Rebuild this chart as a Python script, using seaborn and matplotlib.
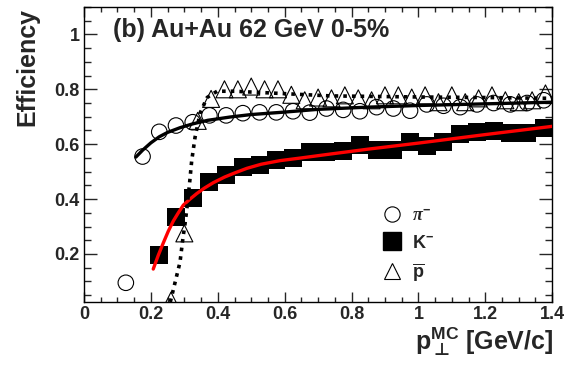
import seaborn as sns
import matplotlib.pyplot as plt
from matplotlib.lines import Line2D
from matplotlib.ticker import MultipleLocator

# pi- efficiency (open circles)
pi_pt = [0.125, 0.175, 0.225, 0.275, 0.325, 0.375, 0.425, 0.475, 0.525, 0.575,
         0.625, 0.675, 0.725, 0.775, 0.825, 0.875, 0.925, 0.975, 1.025, 1.075,
         1.125, 1.175, 1.225, 1.275, 1.325, 1.375]
pi_eff = [0.095, 0.555, 0.645, 0.668, 0.680, 0.705, 0.705, 0.713, 0.716, 0.716,
          0.720, 0.715, 0.730, 0.725, 0.720, 0.735, 0.730, 0.722, 0.745, 0.740,
          0.735, 0.745, 0.750, 0.745, 0.750, 0.760]

# K- efficiency (filled squares)
k_pt = [0.225, 0.275, 0.325, 0.375, 0.425, 0.475, 0.525, 0.575, 0.625, 0.675,
        0.725, 0.775, 0.825, 0.875, 0.925, 0.975, 1.025, 1.075, 1.125, 1.175,
        1.225, 1.275, 1.325, 1.375]
k_eff = [0.195, 0.335, 0.404, 0.462, 0.487, 0.516, 0.524, 0.542, 0.550, 0.572,
         0.570, 0.575, 0.596, 0.578, 0.578, 0.607, 0.593, 0.608, 0.636, 0.643,
         0.647, 0.640, 0.640, 0.660]

# pbar efficiency (open triangles)
pb_pt = [0.26, 0.30, 0.34, 0.38, 0.42, 0.46, 0.50, 0.54, 0.58, 0.62,
         0.66, 0.70, 0.74, 0.78, 0.82, 0.86, 0.90, 0.94, 0.98, 1.02,
         1.06, 1.10, 1.14, 1.18, 1.22, 1.26, 1.30, 1.34, 1.38]
pb_eff = [0.030, 0.275, 0.685, 0.765, 0.800, 0.800, 0.810, 0.800, 0.800, 0.780,
          0.760, 0.770, 0.767, 0.778, 0.767, 0.760, 0.778, 0.778, 0.770, 0.778,
          0.753, 0.778, 0.753, 0.767, 0.778, 0.760, 0.753, 0.760, 0.785]

# fit curves
pi_fit_pt = [0.155, 0.175, 0.20, 0.225, 0.25, 0.287, 0.325, 0.37, 0.437, 0.50,
             0.60, 0.70, 0.85, 1.0, 1.2, 1.4]
pi_fit_eff = [0.553, 0.578, 0.605, 0.627, 0.643, 0.660, 0.674, 0.687, 0.699, 0.708,
              0.717, 0.727, 0.735, 0.741, 0.747, 0.753]

k_fit_pt = [0.207, 0.222, 0.237, 0.252, 0.267, 0.282, 0.297, 0.317, 0.337, 0.36,
            0.387, 0.42, 0.45, 0.487, 0.53, 0.586, 0.65, 0.736, 0.85, 1.0, 1.2, 1.4]
k_fit_eff = [0.145, 0.195, 0.240, 0.283, 0.320, 0.350, 0.378, 0.400, 0.420, 0.440,
             0.460, 0.480, 0.495, 0.512, 0.527, 0.540, 0.550, 0.564, 0.582, 0.604,
             0.635, 0.665]

pb_fit_pt = [0.258, 0.263, 0.275, 0.287, 0.296, 0.302, 0.308, 0.315, 0.322, 0.332,
             0.347, 0.368, 0.398, 0.45, 0.50, 0.586, 0.736, 1.0, 1.2, 1.4]
pb_fit_eff = [0.025, 0.050, 0.110, 0.170, 0.260, 0.310, 0.370, 0.450, 0.540, 0.625,
              0.713, 0.770, 0.793, 0.793, 0.790, 0.785, 0.776, 0.772, 0.770, 0.767]

sns.set_style("ticks")
plt.rcParams['font.family'] = ['Liberation Sans', 'DejaVu Sans']
plt.rcParams['font.weight'] = 'bold'
plt.rcParams['mathtext.fontset'] = 'custom'
plt.rcParams['mathtext.rm'] = 'Liberation Sans:bold'
plt.rcParams['mathtext.bf'] = 'Liberation Sans:bold'
plt.rcParams['mathtext.it'] = 'Liberation Serif:italic'
plt.rcParams['mathtext.sf'] = 'DejaVu Sans:bold'
plt.rcParams['mathtext.fallback'] = 'stixsans'

fig = plt.figure(figsize=(5.64, 3.77), dpi=100)
ax = fig.add_axes([0.149, 0.199, 0.830, 0.7825])

# markers first, fit lines on top
sns.scatterplot(x=pb_pt, y=pb_eff, marker='^', s=150, facecolor='none',
                edgecolor='black', linewidth=0.8, ax=ax, zorder=2)
sns.scatterplot(x=pi_pt, y=pi_eff, marker='o', s=125, facecolor='none',
                edgecolor='black', linewidth=0.8, ax=ax, zorder=2)
sns.scatterplot(x=k_pt, y=k_eff, marker='s', s=150, color='black',
                edgecolor='black', linewidth=0, ax=ax, zorder=2)

sns.lineplot(x=pi_fit_pt, y=pi_fit_eff, sort=False, estimator=None,
             color='black', lw=2.4, ax=ax, zorder=3)
sns.lineplot(x=k_fit_pt, y=k_fit_eff, sort=False, estimator=None,
             color='red', lw=2.4, ax=ax, zorder=3)
sns.lineplot(x=pb_fit_pt, y=pb_fit_eff, sort=False, estimator=None,
             color='black', lw=2.6, linestyle=(0, (1, 1.4)), ax=ax, zorder=3)

ax.set_xlim(0, 1.4)
ax.set_ylim(0.025, 1.1)
ax.xaxis.set_major_locator(MultipleLocator(0.2))
ax.xaxis.set_minor_locator(MultipleLocator(0.05))
ax.yaxis.set_major_locator(MultipleLocator(0.2))
ax.yaxis.set_minor_locator(MultipleLocator(0.05))
ax.set_xticks([0, 0.2, 0.4, 0.6, 0.8, 1.0, 1.2, 1.4])
ax.set_xticklabels(['0', '0.2', '0.4', '0.6', '0.8', '1', '1.2', '1.4'])
ax.set_yticks([0.2, 0.4, 0.6, 0.8, 1.0])
ax.set_yticklabels(['0.2', '0.4', '0.6', '0.8', '1'])
ax.tick_params(which='both', direction='in', top=True, right=True,
               labelsize=13, width=1)
ax.tick_params(axis='x', which='major', length=7.5, pad=3)
ax.tick_params(axis='x', which='minor', length=3.6)
ax.tick_params(axis='y', which='major', length=9.5, pad=3)
ax.tick_params(axis='y', which='minor', length=5)
for s in ax.spines.values():
    s.set_linewidth(1.0)
    s.set_color('black')

ax.text(0.062, 0.922, '(b) Au+Au 62 GeV 0-5%', transform=ax.transAxes,
        fontsize=18, fontweight='bold', va='center', ha='left')
fig.text(27 / 564, 1 - 8 / 377, 'Efficiency', rotation=90, fontsize=18,
         fontweight='bold', ha='center', va='top')
fig.text(553 / 564, 1 - 342 / 377, r'p$_{\mathsf{\bot}}^{\mathrm{MC}}$ [GeV/c]',
         fontsize=18, fontweight='bold', ha='right', va='center')

handles = [
    Line2D([], [], marker='o', ls='none', mfc='none', mec='black', ms=11, mew=0.8),
    Line2D([], [], marker='s', ls='none', mfc='black', mec='black', ms=13),
    Line2D([], [], marker='^', ls='none', mfc='none', mec='black', ms=12, mew=0.8),
]
labels = [r'$\pi^{-}$', r'K$^{\mathrm{-}}$', r'$\overline{\mathrm{p}}$']
ax.legend(handles, labels, loc='upper left', bbox_to_anchor=(0.639, 0.32),
          frameon=False, fontsize=13, handlelength=1.0, handletextpad=0.6,
          labelspacing=0.55, borderpad=0, borderaxespad=0)

fig.savefig('out.png', dpi=100)
